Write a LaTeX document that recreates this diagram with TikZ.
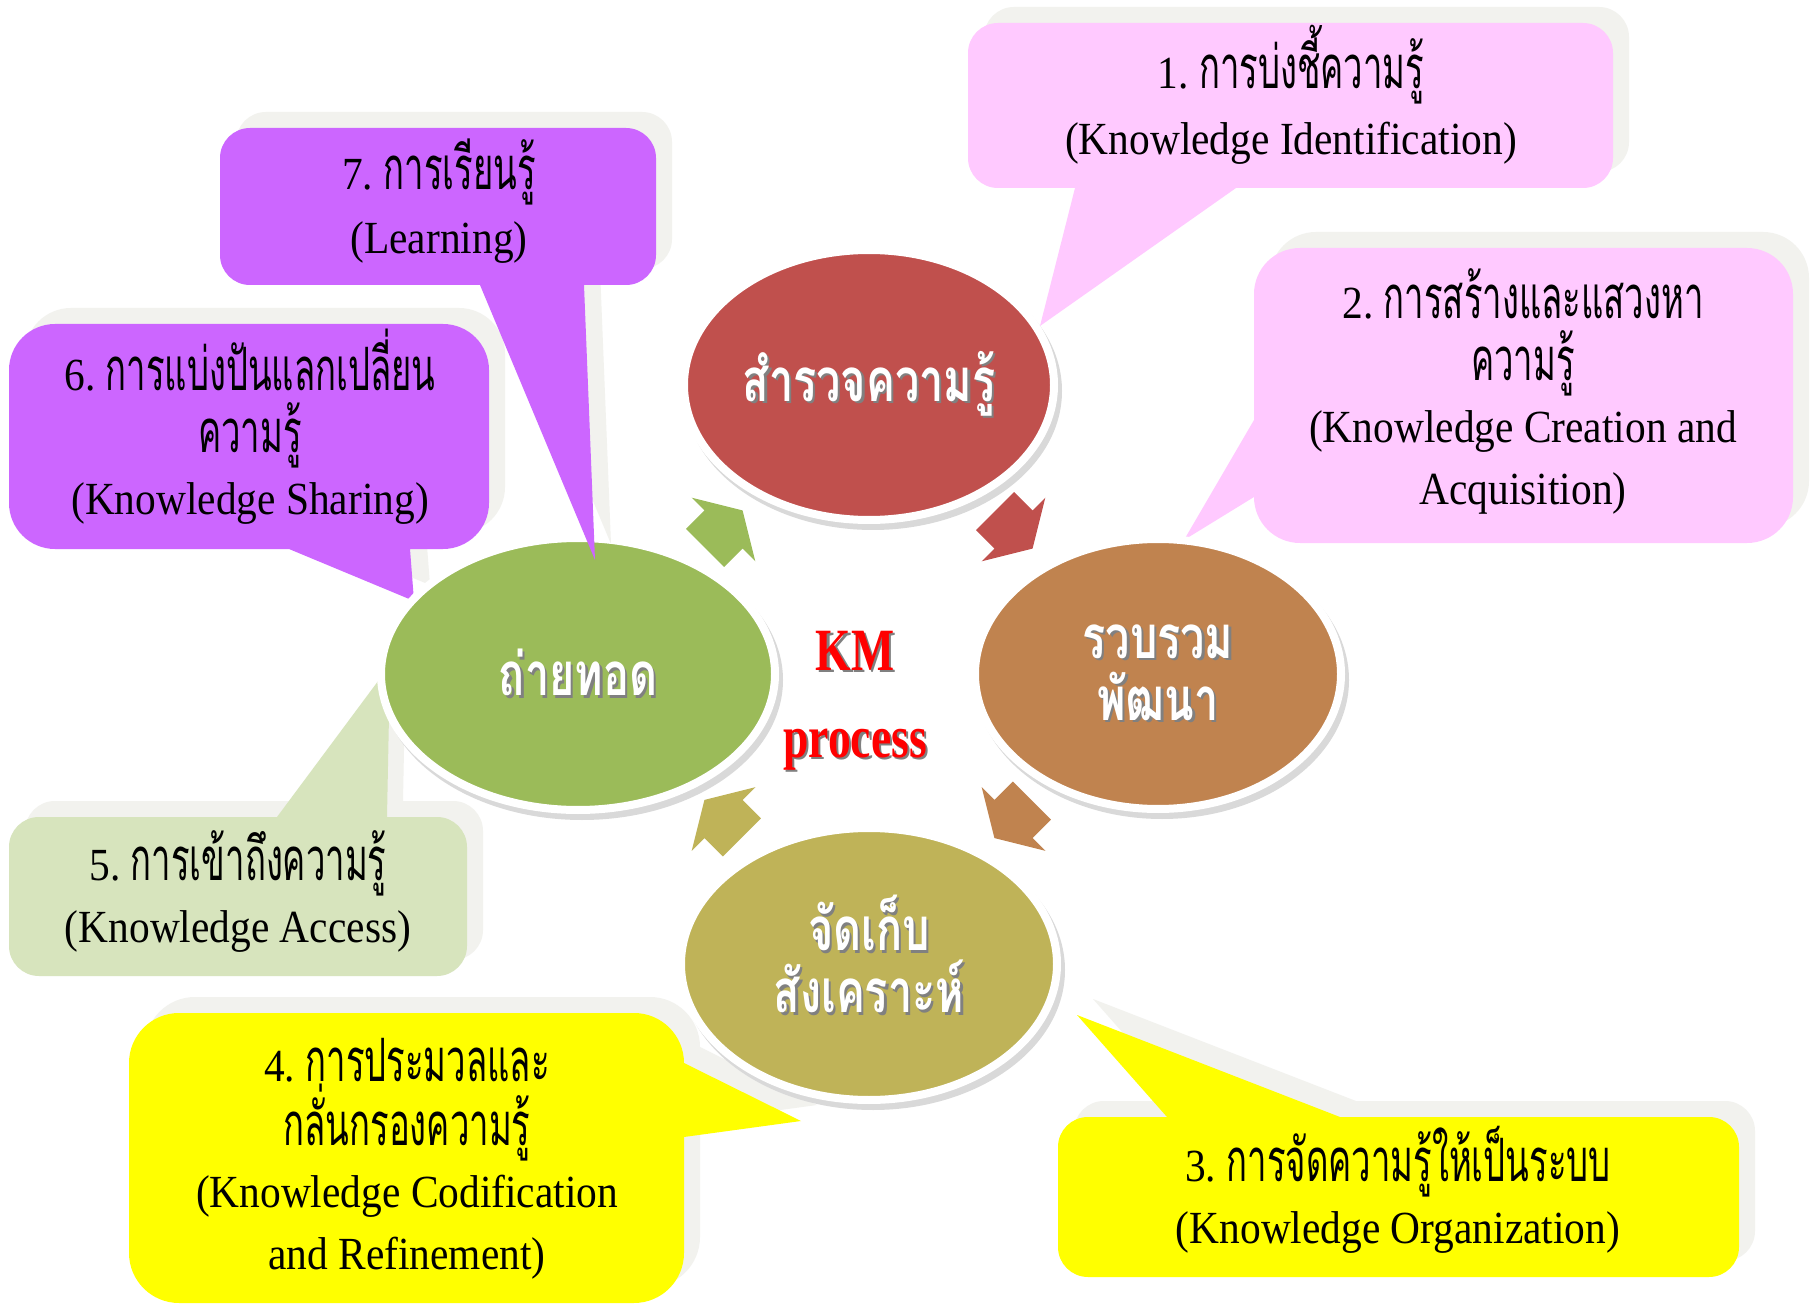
\documentclass[tikz,border=0pt]{standalone}
\usepackage{fontspec}
\setmainfont{Liberation Serif}[FakeStretch=0.9]
\newfontfamily\thai{Loma}[Script=Thai,FakeStretch=0.58,Scale=1.3]
\newfontfamily\thaibold{Loma}[Script=Thai,FakeStretch=0.72]
\newfontfamily\kmfont{Liberation Serif}[FakeStretch=0.76]
\usepackage{xcolor}
\usetikzlibrary{shapes.geometric,positioning,calc}

\definecolor{kmred}{HTML}{C0504D}
\definecolor{kmbrown}{HTML}{C0834F}
\definecolor{kmolive}{HTML}{BFB358}
\definecolor{kmgreen}{HTML}{9BBB59}
\definecolor{bubpink}{HTML}{FFC9FF}
\definecolor{bubpurple}{HTML}{CC66FF}
\definecolor{bubsage}{HTML}{D7E4BD}
\definecolor{bubyellow}{HTML}{FFFF00}
\definecolor{bubshade}{HTML}{F2F2EE}

\newcommand{\kmshade}[1]{\leavevmode\rlap{\kern1.2pt\raisebox{-1.2pt}{\color{black!50}#1}}#1}

\tikzset{
  kmarrow/.pic={\fill[pic actions] (-26,-27) -- (0,-27) -- (0,-45) -- (27,0) -- (0,45) -- (0,27) -- (-26,27) -- cycle;}
}

\begin{document}
\begin{tikzpicture}[x=0.5pt, y=-0.5pt, line join=round,
    bubble/.style={fill=#1, preaction={fill=bubshade, transform canvas={xshift=8pt, yshift=8pt}}},
    bubtext/.style={align=center, inner sep=0pt, font=\fontsize{23}{31}\selectfont},
    kmoval/.style={ellipse, fill=#1, draw=white, line width=4pt, inner sep=0pt, align=center, text=white,
      font=\thaibold\bfseries\fontsize{30}{31}\selectfont,
      preaction={draw=black!15, line width=4pt, fill=black!15, transform canvas={xshift=2pt, yshift=-3pt}}},
    kmtitle/.style={text=red, font=\kmfont\bfseries\fontsize{30}{30}\selectfont, inner sep=0pt, anchor=base}]
  \useasboundingbox (0,0) rectangle (1812,1305);
  \fill[white] (0,0) rectangle (1812,1305);

  % speech bubbles
  \fill[bubble=bubpink] [rounded corners=15pt] (968,23) rectangle (1613,188)
    [sharp corners] (1075,188) -- (1040,326) -- (1236,188) -- cycle;
  \node[bubtext, font=\fontsize{23}{33}\selectfont] (identify) at (1291,95) {1.~{\thai การบ่งชี้ความรู้}\\(Knowledge Identification)};

  \fill[bubble=bubpink] [rounded corners=23pt] (1254,248) rectangle (1793,543)
    [sharp corners] (1254,420) -- (1184,540) -- (1254,497) -- cycle;
  \node[bubtext] (create) at (1523,391) {2.~{\thai การสร้างและแสวงหา}\\{\thai ความรู้}\\(Knowledge Creation and\\Acquisition)};

  \fill[bubble=bubyellow] [rounded corners=15pt] (1058,1117) rectangle (1739,1277)
    [sharp corners] (1167,1117) -- (1077,1015) -- (1340,1117) -- cycle;
  \node[bubtext] (organize) at (1398,1190) {3.~{\thai การจัดความรู้ให้เป็นระบบ}\\(Knowledge Organization)};

  \fill[bubble=bubyellow] [rounded corners=25pt] (129,1013) rectangle (684,1303)
    [sharp corners] (684,1063) -- (801,1121) -- (684,1137) -- cycle;
  \node[bubtext] (codify) at (407,1159) {4.~{\thai การประมวลและ}\\{\thai กลั่นกรองความรู้}\\(Knowledge Codification\\and Refinement)};

  \fill[bubble=bubsage] [rounded corners=15pt] (9,817) rectangle (467,976)
    [sharp corners] (277,817) -- (390,665) -- (387,817) -- cycle;
  \node[bubtext] (access) at (238,891) {5.~{\thai การเข้าถึงความรู้}\\(Knowledge Access)};

  \fill[bubble=bubpurple] [rounded corners=23pt] (9,324) rectangle (489,549)
    [sharp corners] (289,549) -- (414,601) -- (410,549) -- cycle;
  \node[bubtext] (share) at (250,427) {6.~{\thai การแบ่งปันแลกเปลี่ยน}\\{\thai ความรู้}\\(Knowledge Sharing)};

  % the four steps
  \node[kmoval=kmred, minimum width=185pt, minimum height=135pt] (survey) at (869,385) {\kmshade{สำรวจความรู้}};
  \node[kmoval=kmbrown, minimum width=183pt, minimum height=135pt] (collect) at (1158,674) {\kmshade{รวบรวม}\\\kmshade{พัฒนา}};
  \node[kmoval=kmolive, minimum width=188pt, minimum height=136pt] (store) at (869,964) {\kmshade{จัดเก็บ}\\\kmshade{สังเคราะห์}\\[-21pt]\mbox{}};
  \node[kmoval=kmgreen, minimum width=197pt, minimum height=136pt] (transfer) at (578,674) {\kmshade{ถ่ายทอด}};

  \pic[fill=kmred, rotate=-45] at ($(survey)!0.5!(collect)$) {kmarrow};
  \pic[fill=kmbrown, rotate=-135] at ($(collect)!0.5!(store)$) {kmarrow};
  \pic[fill=kmolive, rotate=135] at ($(store)!0.5!(transfer)$) {kmarrow};
  \pic[fill=kmgreen, rotate=45] at ($(transfer)!0.5!(survey)$) {kmarrow};

  \fill[bubble=bubpurple] [rounded corners=15pt] (220,128) rectangle (656,285)
    [sharp corners] (480,285) -- (595,560) -- (584,285) -- cycle;
  \node[bubtext, font=\fontsize{23}{32}\selectfont] (learn) at (439,201) {7.~{\thai การเรียนรู้}\\(Learning)};

  \node[kmtitle] (km) at (855,670) {\kmshade{KM}};
  \node[kmtitle] (kmproc) at (855,757) {\kmshade{process}};
\end{tikzpicture}
\end{document}
